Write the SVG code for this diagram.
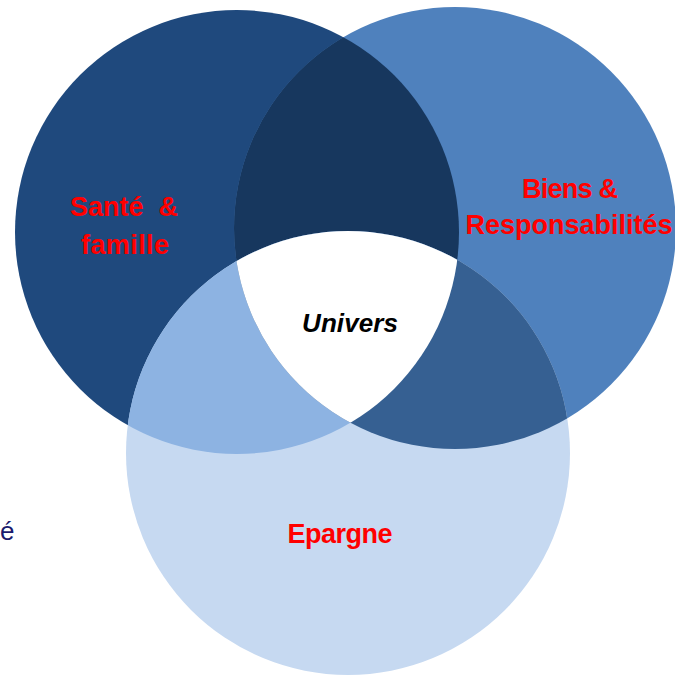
<svg xmlns="http://www.w3.org/2000/svg" width="675" height="676" viewBox="0 0 675 676">
<style>
.lbl{font-family:"Liberation Sans",Arial,sans-serif;font-weight:bold;font-size:27px;fill:#FF0000;text-anchor:middle;white-space:pre}
.uni{font-family:"Liberation Sans",Arial,sans-serif;font-weight:bold;font-style:italic;font-size:26px;fill:#000;text-anchor:middle}
</style>
<defs>
<clipPath id="cL"><circle cx="237" cy="232" r="222"/></clipPath>
<clipPath id="cR"><circle cx="455" cy="228" r="221"/></clipPath>
</defs>
<rect width="675" height="676" fill="#fff"/>
<text x="0" y="540" font-family="Liberation Sans,Arial,sans-serif" font-size="26" fill="#1A1A6E">é</text>
<g id="circle-left"><circle cx="237" cy="232" r="222" fill="#1F497D"/></g>
<g id="circle-right"><circle cx="455" cy="228" r="221" fill="#4F81BD"/></g>
<g id="circle-bottom"><circle cx="348" cy="453" r="222" fill="#C6D9F1"/></g>
<g id="overlap-left-right" clip-path="url(#cL)"><circle cx="455" cy="228" r="221" fill="#17375E"/></g>
<g id="overlap-left-bottom" clip-path="url(#cL)"><circle cx="348" cy="453" r="222" fill="#8DB3E2"/></g>
<g id="overlap-right-bottom" clip-path="url(#cR)"><circle cx="348" cy="453" r="222" fill="#366092"/></g>
<g id="center" clip-path="url(#cL)"><g clip-path="url(#cR)"><circle cx="348" cy="453" r="222" fill="#FFFFFF"/></g></g>
<g id="labels">
<text class="lbl" x="124" y="216" xml:space="preserve" textLength="108" lengthAdjust="spacing">Santé  &amp;</text>
<text class="lbl" x="125" y="254" textLength="88" lengthAdjust="spacing">famille</text>
<text class="lbl" x="570" y="198" textLength="96" lengthAdjust="spacing">Biens &amp;</text>
<text class="lbl" x="569" y="234" textLength="207" lengthAdjust="spacing">Responsabilités</text>
<text class="uni" x="350" y="332" textLength="96" lengthAdjust="spacing">Univers</text>
<text class="lbl" x="340" y="543" textLength="105" lengthAdjust="spacing">Epargne</text>
</g>
</svg>
